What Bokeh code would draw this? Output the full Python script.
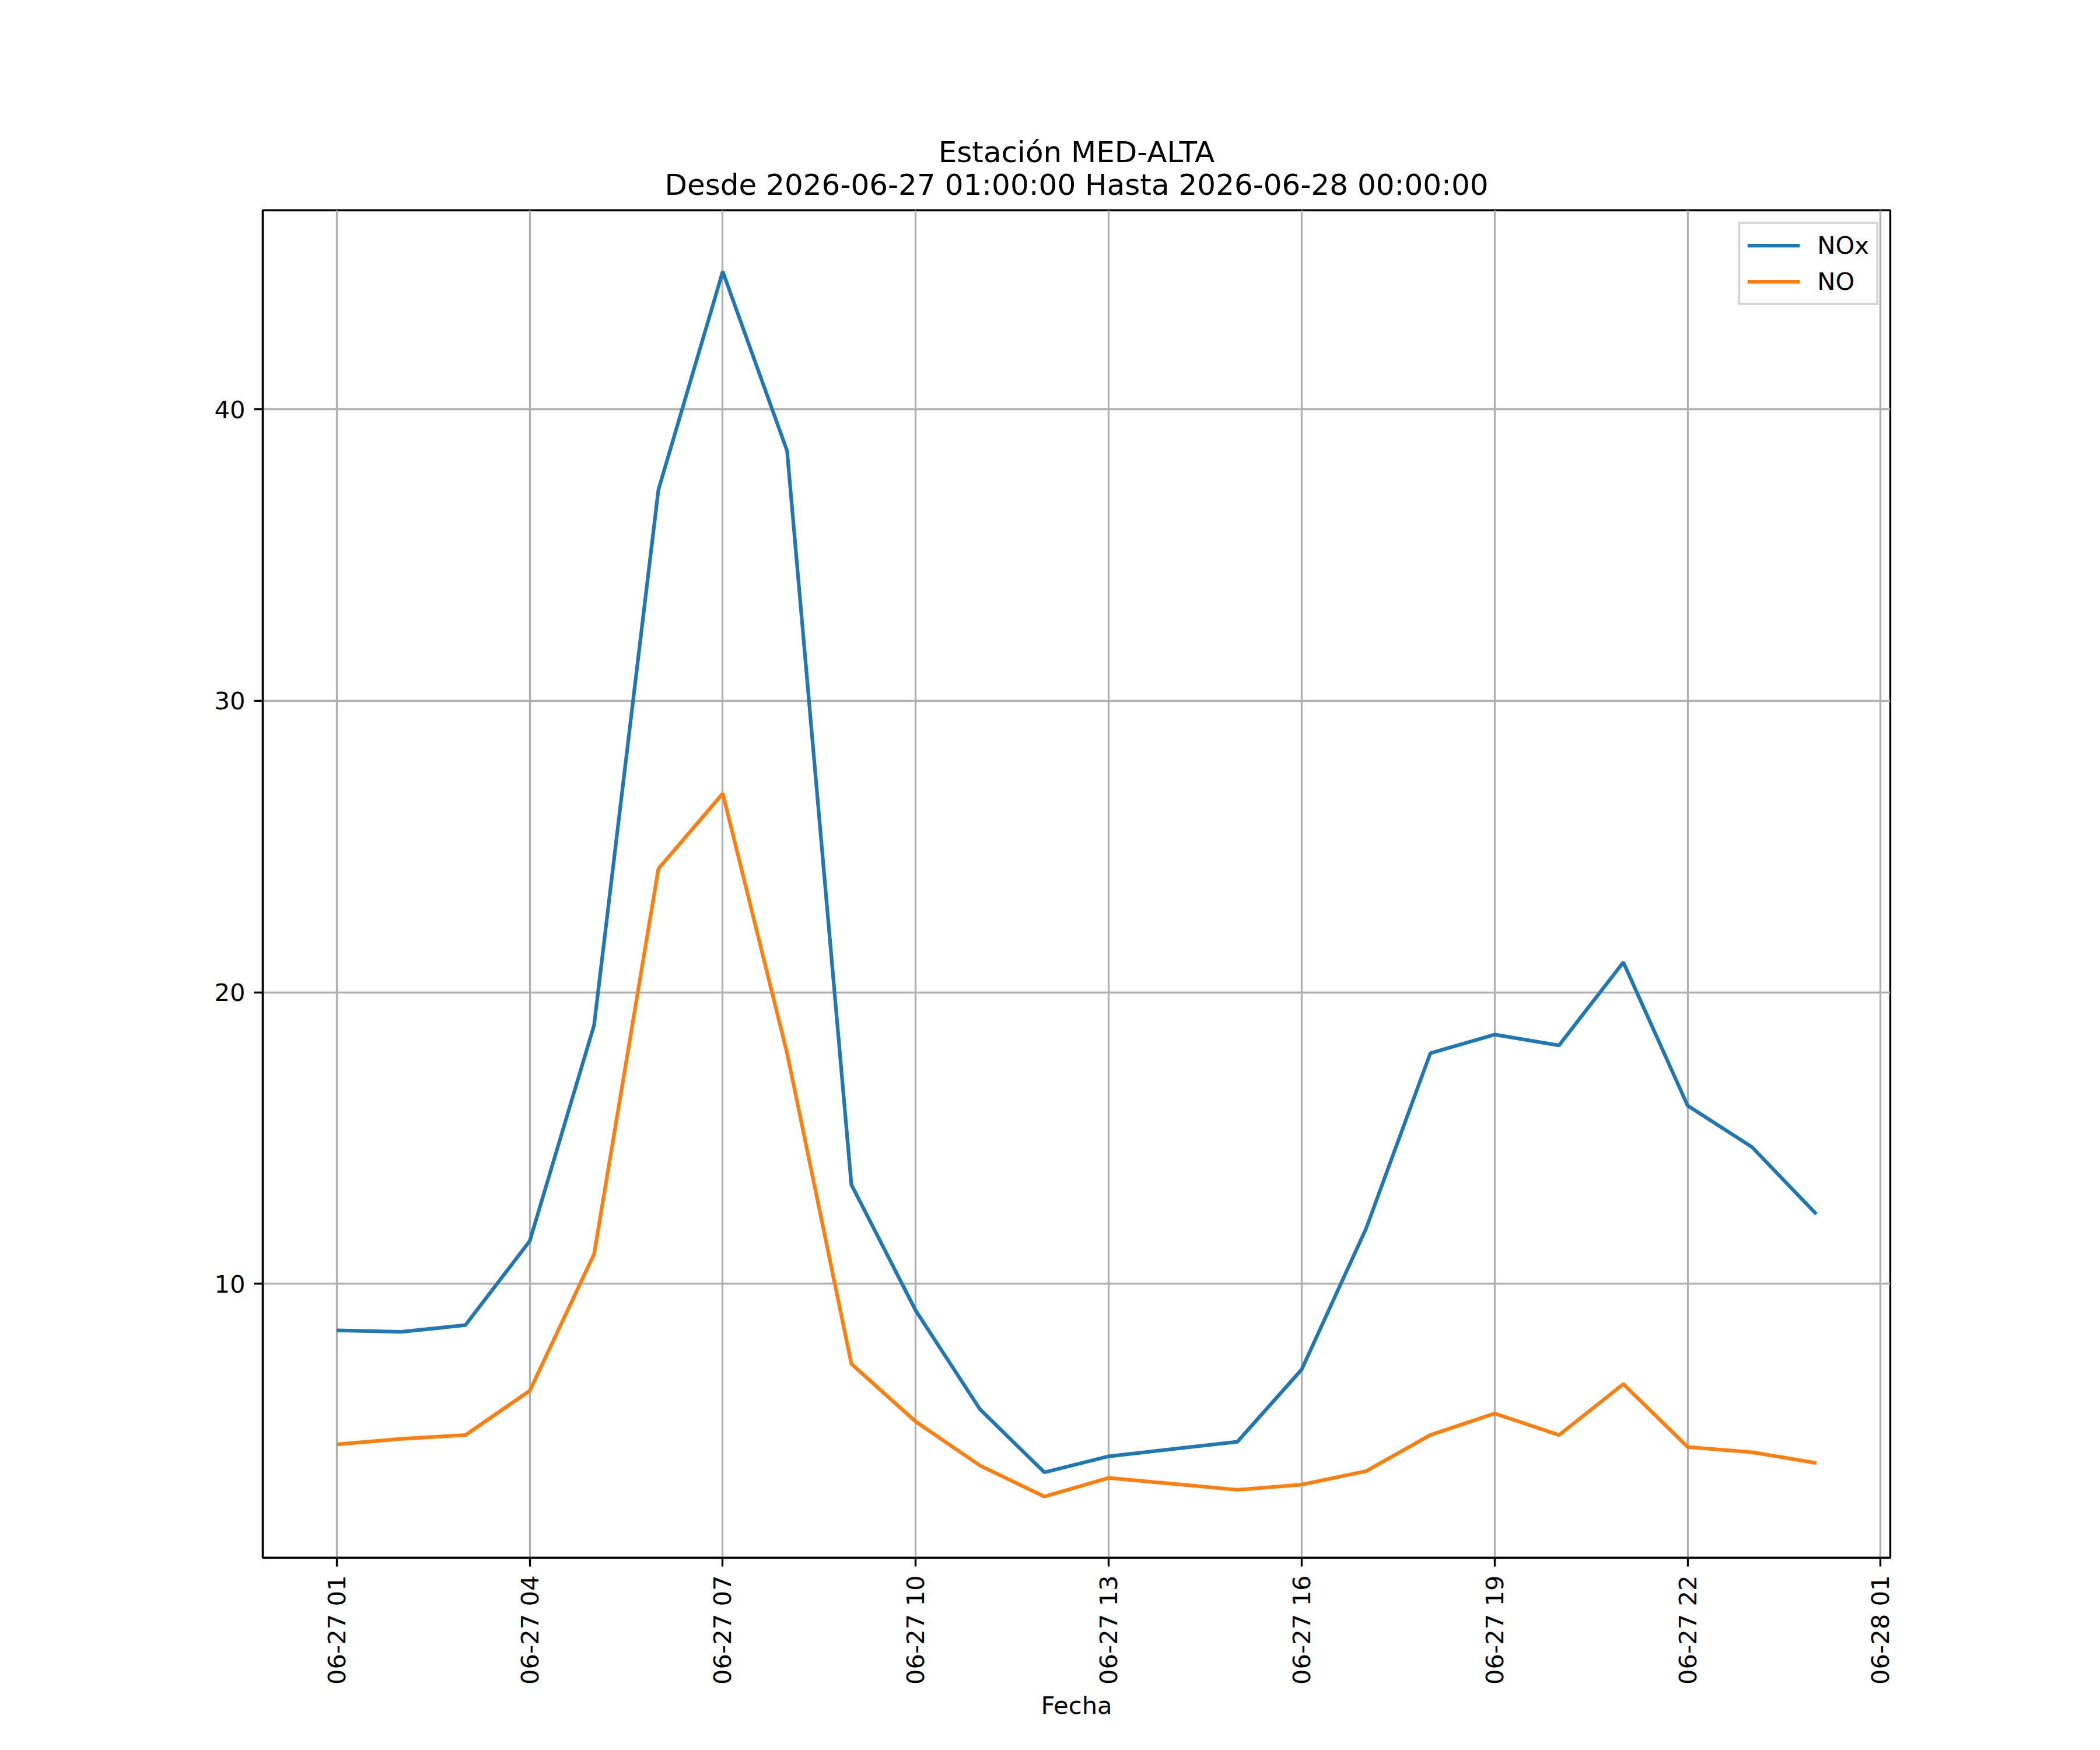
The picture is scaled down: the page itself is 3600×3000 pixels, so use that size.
import math
from datetime import datetime
from bokeh.plotting import figure
from bokeh.models import Range1d, FixedTicker, DatetimeTickFormatter, Title
from bokeh.embed import file_html
from bokeh.resources import INLINE

# ---- data ----
times = [
    "2026-06-27 01:00", "2026-06-27 02:00", "2026-06-27 03:00", "2026-06-27 04:00",
    "2026-06-27 05:00", "2026-06-27 06:00", "2026-06-27 07:00", "2026-06-27 08:00",
    "2026-06-27 09:00", "2026-06-27 10:00", "2026-06-27 11:00", "2026-06-27 12:00",
    "2026-06-27 13:00", "2026-06-27 15:00", "2026-06-27 16:00", "2026-06-27 17:00",
    "2026-06-27 18:00", "2026-06-27 19:00", "2026-06-27 20:00", "2026-06-27 21:00",
    "2026-06-27 22:00", "2026-06-27 23:00", "2026-06-28 00:00",
]
nox = [8.40, 8.35, 8.58, 11.47, 18.87, 37.24, 44.73, 38.58, 13.40, 9.08, 5.69, 3.53,
       4.08, 4.58, 7.06, 11.89, 17.91, 18.55, 18.18, 21.03, 16.11, 14.69, 12.39]
no = [4.49, 4.68, 4.81, 6.33, 11.02, 24.24, 26.82, 17.91, 7.25, 5.27, 3.76, 2.70,
      3.34, 2.93, 3.11, 3.57, 4.81, 5.55, 4.81, 6.56, 4.40, 4.22, 3.85]
tick_times = ["2026-06-27 01:00", "2026-06-27 04:00", "2026-06-27 07:00", "2026-06-27 10:00",
              "2026-06-27 13:00", "2026-06-27 16:00", "2026-06-27 19:00", "2026-06-27 22:00",
              "2026-06-28 01:00"]
y_ticks = [10, 20, 30, 40]
title_line1 = "Estación MED-ALTA"
title_line2 = "Desde 2026-06-27 01:00:00 Hasta 2026-06-28 00:00:00"
x_label = "Fecha"

# ---- helpers ----
EPOCH = datetime(1970, 1, 1)
def to_ms(s):
    return (datetime.strptime(s, "%Y-%m-%d %H:%M") - EPOCH).total_seconds() * 1000.0

xs = [datetime.strptime(s, "%Y-%m-%d %H:%M") for s in times]
xms = [to_ms(s) for s in times]
xspan = max(xms) - min(xms)
allv = nox + no
yspan = max(allv) - min(allv)

FONT = "DejaVu Sans"
FS = "41.7px"
LW = 3.33

p = figure(
    x_axis_type="datetime",
    frame_width=2790, frame_height=2310,
    min_border_left=450, min_border_right=352, min_border_top=360, min_border_bottom=322,
    x_range=Range1d(min(xms) - 0.05 * xspan, max(xms) + 0.05 * xspan),
    y_range=Range1d(min(allv) - 0.05 * yspan, max(allv) + 0.05 * yspan),
    output_backend="svg", toolbar_location=None,
    background_fill_color="white", border_fill_color="white",
)

# titles (line 1 outermost, line 2 next to the plot)
p.title.text = title_line1
p.title.align = "center"
p.title.text_font = FONT
p.title.text_font_size = "50px"
p.title.text_font_style = "normal"
p.title.text_color = "black"
p.title.standoff = -38
t2 = Title(text=title_line2, align="center", text_font=FONT, text_font_size="50px",
           text_font_style="normal", text_color="black", standoff=30)
p.add_layout(t2, "above")

# lines
p.line(xs, nox, line_color="#1f77b4", line_width=6.25, legend_label="NOx")
p.line(xs, no, line_color="#ff7f0e", line_width=6.25, legend_label="NO")

# axes
p.xaxis.ticker = FixedTicker(ticks=[to_ms(s) for s in tick_times])
fmt = "%m-%d %H"
p.xaxis.formatter = DatetimeTickFormatter(
    microseconds=fmt, milliseconds=fmt, seconds=fmt, minsec=fmt, minutes=fmt,
    hourmin=fmt, hours=fmt, days=fmt, months=fmt, years=fmt)
p.xaxis.major_label_orientation = math.pi / 2
p.xaxis.axis_label = x_label
p.yaxis.ticker = FixedTicker(ticks=y_ticks)

for ax in (p.xaxis, p.yaxis):
    ax.axis_line_color = "black"
    ax.axis_line_width = LW
    ax.major_tick_line_color = "black"
    ax.major_tick_line_width = LW
    ax.major_tick_out = 15
    ax.major_tick_in = 0
    ax.minor_tick_line_color = None
    ax.major_label_text_font = FONT
    ax.major_label_text_font_size = FS
    ax.major_label_text_color = "black"
    ax.major_label_standoff = 15
    ax.axis_label_text_font = FONT
    ax.axis_label_text_font_size = FS
    ax.axis_label_text_font_style = "normal"
    ax.axis_label_text_color = "black"
p.xaxis.axis_label_standoff = 8

p.outline_line_color = "black"
p.outline_line_width = LW
p.outline_line_alpha = 1.0

for g in (p.xgrid, p.ygrid):
    g.grid_line_color = "#b0b0b0"
    g.grid_line_width = LW
    g.grid_line_alpha = 1.0

# legend
lg = p.legend[0]
lg.location = "top_right"
lg.margin = 20
lg.padding = 12
lg.spacing = 13
lg.glyph_width = 90
lg.glyph_height = 49
lg.label_height = 49
lg.label_standoff = 30
lg.label_text_font = FONT
lg.label_text_font_size = FS
lg.label_text_color = "black"
lg.border_line_color = "#cccccc"
lg.border_line_alpha = 0.8
lg.border_line_width = 4
lg.background_fill_color = "white"
lg.background_fill_alpha = 0.8

open("out.html", "w").write(file_html(p, INLINE))
